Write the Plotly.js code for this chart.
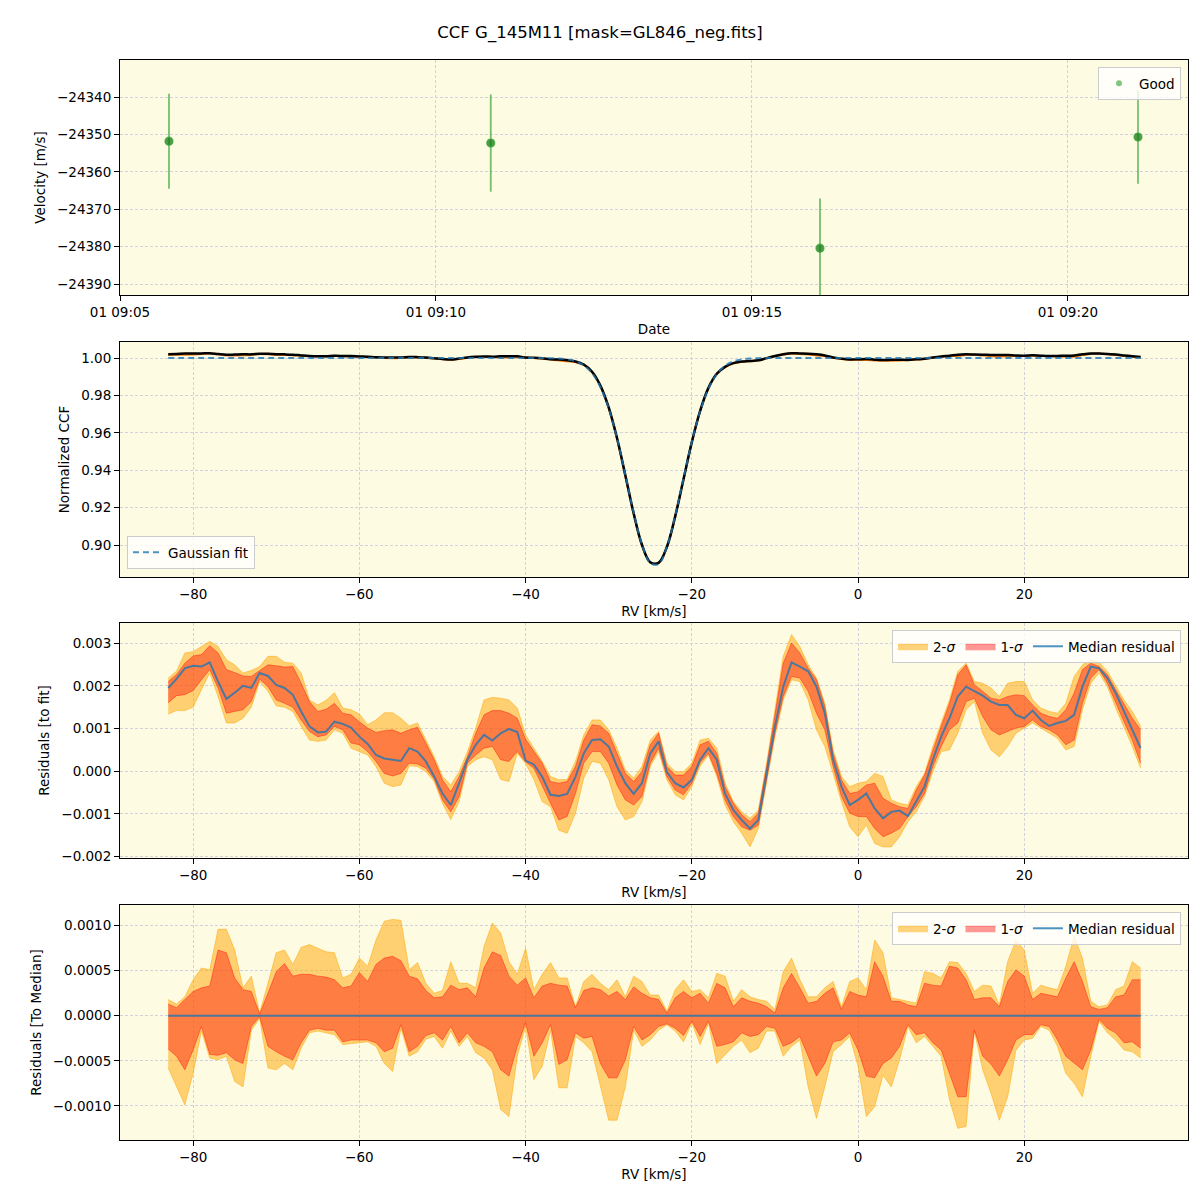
<!DOCTYPE html>
<html>
<head>
<meta charset="utf-8">
<script src="https://cdn.plot.ly/plotly-3.0.1.min.js"></script>
<style>html,body{margin:0;padding:0;background:#fff;}#chart{width:1200px;height:1200px;}</style>
</head>
<body>
<div id="chart"></div>
<script>
// ---- Panel 1: velocities ----
const obsTimes = ['2024-01-01 09:05:46.5', '2024-01-01 09:10:52', '2024-01-01 09:16:04.6', '2024-01-01 09:21:06.5'];
const obsVel = [-24351.8, -24352.3, -24380.4, -24350.7];
const obsErr = [12.7, 13.0, 13.3, 12.5];

// ---- RV grid (km/s) ----
const rv = [-83,-82,-81,-80,-79,-78,-77,-76,-75,-74,
 -73,-72,-71,-70,-69,-68,-67,-66,-65,-64,
 -63,-62,-61,-60,-59,-58,-57,-56,-55,-54,
 -53,-52,-51,-50,-49,-48,-47,-46,-45,-44,
 -43,-42,-41,-40,-39,-38,-37,-36,-35,-34,
 -33,-32,-31,-30,-29,-28,-27,-26,-25,-24,
 -23,-22,-21,-20,-19,-18,-17,-16,-15,-14,
 -13,-12,-11,-10,-9,-8,-7,-6,-5,-4,
 -3,-2,-1,0,1,2,3,4,5,6,
 7,8,9,10,11,12,13,14,15,16,
 17,18,19,20,21,22,23,24,25,26,
 27,28,29,30,31,32,33,34];

// ---- Panel 2: CCF ----
const ccfMean = [1.00195,1.00216,1.00241,1.00247,1.00245,1.00255,1.00210,1.00169,1.00184,1.00200,
 1.00195,1.00230,1.00223,1.00202,1.00195,1.00179,1.00140,1.00105,1.00091,1.00093,
 1.00116,1.00111,1.00102,1.00081,1.00064,1.00038,1.00030,1.00027,1.00024,1.00054,
 1.00046,1.00023,0.99988,0.99948,0.99921,0.99972,1.00027,1.00062,1.00085,1.00072,
 1.00089,1.00099,1.00092,1.00025,1.00016,0.99987,0.99935,0.99918,0.99880,0.99817,
 0.99652,0.99263,0.98525,0.97358,0.95721,0.93732,0.91697,0.90012,0.89082,0.89050,
 0.89898,0.91532,0.93522,0.95500,0.97177,0.98404,0.99157,0.99528,0.99729,0.99811,
 0.99836,0.99876,0.99995,1.00105,1.00198,1.00255,1.00245,1.00234,1.00198,1.00136,
 1.00027,0.99964,0.99921,0.99933,0.99948,0.99913,0.99890,0.99905,0.99908,0.99895,
 0.99929,0.99964,1.00027,1.00081,1.00124,1.00175,1.00198,1.00187,1.00177,1.00163,
 1.00155,1.00155,1.00132,1.00124,1.00142,1.00120,1.00106,1.00113,1.00118,1.00132,
 1.00198,1.00245,1.00241,1.00218,1.00183,1.00140,1.00097,1.00054];
const ccfSingle = [1.00160,1.00177,1.00179,1.00189,1.00214,1.00238,1.00195,1.00136,1.00140,1.00144,
 1.00163,1.00216,1.00198,1.00167,1.00159,1.00150,1.00120,1.00093,1.00081,1.00085,
 1.00105,1.00097,1.00066,1.00062,1.00046,1.00023,0.99995,0.99989,0.99995,1.00019,
 1.00017,1.00007,0.99982,0.99933,0.99905,0.99941,1.00019,1.00038,1.00054,1.00058,
 1.00027,1.00023,1.00046,1.00022,1.00007,0.99964,0.99915,0.99862,0.99827,0.99778,
 0.99629,0.99236,0.98496,0.97319,0.95678,0.93693,0.91671,0.89981,0.89059,0.89034,
 0.89888,0.91516,0.93505,0.95492,0.97170,0.98392,0.99125,0.99513,0.99714,0.99795,
 0.99832,0.99864,0.99980,1.00089,1.00175,1.00222,1.00218,1.00187,1.00136,1.00097,
 1.00011,0.99941,0.99902,0.99894,0.99894,0.99866,0.99847,0.99855,0.99866,0.99894,
 0.99917,0.99948,1.00011,1.00058,1.00097,1.00113,1.00163,1.00171,1.00128,1.00097,
 1.00085,1.00093,1.00101,1.00105,1.00120,1.00105,1.00097,1.00085,1.00062,1.00073,
 1.00159,1.00218,1.00238,1.00206,1.00159,1.00116,1.00073,1.00019];
const ccfFit = [1,1,1,1,1,1,1,1,1,1,
 1,1,1,1,1,1,1,1,1,1,
 1,1,1,1,1,1,1,1,1,1,
 1,1,1,1,1,1,1,1,1,1,
 1,1,1,1,1,1,0.9999,0.99976,0.99933,0.9983,
 0.9961,0.9919,0.9845,0.9730,0.9571,0.9376,0.9175,0.9004,0.8904,0.8898,
 0.8990,0.9156,0.9356,0.9552,0.9715,0.9835,0.9913,0.9958,0.9982,0.99925,
 0.9997,0.9999,1,1,1,1,1,1,1,1,
 1,1,1,1,1,1,1,1,1,1,
 1,1,1,1,1,1,1,1,1,1,
 1,1,1,1,1,1,1,1,1,1,
 1,1,1,1,1,1,1,1];

// ---- Panel 3: residuals to fit ----
const medFit = [0.00195,0.00216,0.00241,0.00247,0.00245,0.00255,0.00210,0.00169,0.00184,0.00200,
 0.00195,0.00230,0.00223,0.00202,0.00195,0.00179,0.00140,0.00105,0.00091,0.00093,
 0.00116,0.00111,0.00102,0.00081,0.00064,0.00038,0.00030,0.00027,0.00024,0.00054,
 0.00046,0.00023,-0.00012,-0.00052,-0.00079,-0.00028,0.00027,0.00062,0.00085,0.00072,
 0.00089,0.00099,0.00092,0.00025,0.00016,-0.00013,-0.00055,-0.00058,-0.00053,-0.00013,
 0.00042,0.00073,0.00075,0.00058,0.00011,-0.00028,-0.00053,-0.00028,0.00042,0.00070,
 -0.00002,-0.00028,-0.00038,-0.00020,0.00027,0.00054,0.00027,-0.00052,-0.00091,-0.00114,
 -0.00134,-0.00114,-0.00005,0.00105,0.00198,0.00255,0.00245,0.00234,0.00198,0.00136,
 0.00027,-0.00036,-0.00079,-0.00067,-0.00052,-0.00087,-0.00110,-0.00095,-0.00092,-0.00105,
 -0.00071,-0.00036,0.00027,0.00081,0.00124,0.00175,0.00198,0.00187,0.00177,0.00163,
 0.00155,0.00155,0.00132,0.00124,0.00142,0.00120,0.00106,0.00113,0.00118,0.00132,
 0.00198,0.00245,0.00241,0.00218,0.00183,0.00140,0.00097,0.00054];
const fitUp1 = [0.00210,0.00226,0.00253,0.00270,0.00273,0.00294,0.00277,0.00238,0.00231,0.00223,
 0.00222,0.00236,0.00249,0.00247,0.00244,0.00245,0.00206,0.00163,0.00140,0.00145,
 0.00159,0.00136,0.00132,0.00116,0.00101,0.00091,0.00095,0.00097,0.00089,0.00097,
 0.00103,0.00066,0.00027,-0.00020,-0.00048,-0.00012,0.00034,0.00089,0.00132,0.00142,
 0.00142,0.00136,0.00124,0.00075,0.00046,0.00019,-0.00024,-0.00028,-0.00024,0.00011,
 0.00073,0.00109,0.00106,0.00089,0.00042,-0.00005,-0.00024,-0.00001,0.00062,0.00089,
 0.00011,-0.00009,-0.00009,0.00011,0.00062,0.00070,0.00042,-0.00036,-0.00075,-0.00102,
 -0.00118,-0.00098,0.00011,0.00136,0.00253,0.00300,0.00277,0.00241,0.00214,0.00152,
 0.00042,-0.00020,-0.00052,-0.00048,-0.00032,-0.00028,-0.00063,-0.00075,-0.00083,-0.00087,
 -0.00044,-0.00009,0.00050,0.00105,0.00159,0.00226,0.00249,0.00202,0.00187,0.00171,
 0.00167,0.00175,0.00179,0.00177,0.00155,0.00136,0.00128,0.00124,0.00144,0.00183,
 0.00238,0.00253,0.00245,0.00226,0.00191,0.00159,0.00124,0.00097];
const fitLo1 = [0.00160,0.00177,0.00179,0.00189,0.00214,0.00238,0.00195,0.00136,0.00140,0.00144,
 0.00163,0.00216,0.00198,0.00167,0.00159,0.00150,0.00120,0.00093,0.00081,0.00085,
 0.00105,0.00097,0.00066,0.00062,0.00046,0.00023,-0.00005,-0.00011,-0.00005,0.00019,
 0.00017,0.00007,-0.00018,-0.00067,-0.00095,-0.00059,0.00019,0.00038,0.00054,0.00058,
 0.00027,0.00023,0.00046,0.00022,0.00007,-0.00036,-0.00075,-0.00114,-0.00106,-0.00052,
 0.00019,0.00046,0.00046,0.00019,-0.00032,-0.00067,-0.00079,-0.00059,0.00019,0.00054,
 -0.00012,-0.00044,-0.00055,-0.00028,0.00020,0.00042,-0.00005,-0.00067,-0.00106,-0.00130,
 -0.00138,-0.00126,-0.00020,0.00089,0.00175,0.00222,0.00218,0.00187,0.00136,0.00097,
 0.00011,-0.00059,-0.00098,-0.00106,-0.00106,-0.00134,-0.00153,-0.00145,-0.00134,-0.00106,
 -0.00083,-0.00052,0.00011,0.00058,0.00097,0.00113,0.00163,0.00171,0.00128,0.00097,
 0.00085,0.00093,0.00101,0.00105,0.00120,0.00105,0.00097,0.00085,0.00062,0.00073,
 0.00159,0.00218,0.00238,0.00206,0.00159,0.00116,0.00073,0.00019];
const fitUp2 = [0.00218,0.00234,0.00277,0.00280,0.00292,0.00304,0.00292,0.00261,0.00249,0.00230,
 0.00236,0.00245,0.00269,0.00269,0.00255,0.00253,0.00230,0.00167,0.00155,0.00166,
 0.00184,0.00148,0.00144,0.00134,0.00109,0.00120,0.00137,0.00137,0.00124,0.00106,
 0.00113,0.00073,0.00034,-0.00012,-0.00032,-0.00001,0.00046,0.00101,0.00167,0.00173,
 0.00171,0.00167,0.00148,0.00085,0.00054,0.00023,-0.00012,-0.00020,-0.00019,0.00023,
 0.00085,0.00120,0.00120,0.00097,0.00054,0.00003,-0.00016,0.00011,0.00073,0.00093,
 0.00019,-0.00001,-0.00001,0.00019,0.00073,0.00077,0.00054,-0.00028,-0.00071,-0.00095,
 -0.00110,-0.00091,0.00019,0.00144,0.00269,0.00320,0.00292,0.00249,0.00218,0.00159,
 0.00050,-0.00012,-0.00036,-0.00028,-0.00024,-0.00005,-0.00012,-0.00067,-0.00075,-0.00079,
 -0.00036,-0.00005,0.00058,0.00113,0.00167,0.00234,0.00253,0.00210,0.00206,0.00195,
 0.00175,0.00206,0.00210,0.00210,0.00167,0.00148,0.00140,0.00136,0.00159,0.00222,
 0.00249,0.00261,0.00255,0.00234,0.00202,0.00167,0.00140,0.00105];
const fitLo2 = [0.00134,0.00142,0.00142,0.00150,0.00191,0.00230,0.00175,0.00113,0.00113,0.00124,
 0.00150,0.00210,0.00187,0.00153,0.00150,0.00140,0.00105,0.00073,0.00070,0.00073,
 0.00097,0.00089,0.00054,0.00046,0.00038,0.00011,-0.00028,-0.00036,-0.00032,0.00013,
 0.00011,-0.00001,-0.00024,-0.00075,-0.00113,-0.00071,0.00011,0.00027,0.00034,0.00027,
 -0.00019,-0.00024,0.00042,0.00018,-0.00020,-0.00071,-0.00083,-0.00138,-0.00145,-0.00098,
 -0.00016,0.00023,0.00019,-0.00020,-0.00083,-0.00114,-0.00106,-0.00071,0.00011,0.00046,
 -0.00020,-0.00055,-0.00067,-0.00036,0.00012,0.00038,-0.00012,-0.00079,-0.00118,-0.00145,
 -0.00177,-0.00134,-0.00028,0.00081,0.00167,0.00214,0.00210,0.00167,0.00097,0.00058,
 -0.00005,-0.00071,-0.00130,-0.00153,-0.00126,-0.00169,-0.00177,-0.00177,-0.00153,-0.00118,
 -0.00095,-0.00059,-0.00001,0.00046,0.00050,0.00089,0.00144,0.00163,0.00089,0.00050,
 0.00034,0.00058,0.00089,0.00101,0.00113,0.00101,0.00089,0.00077,0.00050,0.00058,
 0.00144,0.00206,0.00230,0.00198,0.00148,0.00105,0.00058,0.00007];

// ---- Panel 4: residuals to median ----
const medRvEnds = [-83, 34];
const medZero = [0, 0];
const medUp2 = [0.00018,0.00013,0.00021,0.00040,0.00053,0.00051,0.00096,0.00096,0.00073,0.00031,
 0.00044,0.00003,0.00036,0.00070,0.00073,0.00057,0.00076,0.00079,0.00075,0.00071,
 0.00070,0.00042,0.00046,0.00064,0.00055,0.00084,0.00105,0.00107,0.00106,0.00051,
 0.00059,0.00036,0.00025,0.00028,0.00060,0.00036,0.00036,0.00031,0.00077,0.00103,
 0.00092,0.00060,0.00046,0.00075,0.00029,0.00046,0.00059,0.00042,0.00042,0.00010,
 0.00038,0.00046,0.00036,0.00029,0.00040,0.00021,0.00044,0.00038,0.00023,0.00023,
 0.00005,0.00029,0.00040,0.00027,0.00029,0.00020,0.00047,0.00044,0.00016,0.00029,
 0.00021,0.00018,0.00016,0.00007,0.00049,0.00064,0.00040,0.00021,0.00021,0.00031,
 0.00038,0.00010,0.00038,0.00042,0.00029,0.00084,0.00070,0.00020,0.00018,0.00016,
 0.00014,0.00049,0.00047,0.00042,0.00060,0.00059,0.00047,0.00027,0.00034,0.00033,
 0.00012,0.00060,0.00084,0.00073,0.00025,0.00034,0.00031,0.00029,0.00055,0.00088,
 0.00064,0.00016,0.00010,0.00012,0.00029,0.00033,0.00060,0.00053];
const medUp1 = [0.00013,0.00009,0.00018,0.00027,0.00031,0.00033,0.00073,0.00070,0.00042,0.00029,
 0.00027,0.00002,0.00025,0.00049,0.00058,0.00044,0.00046,0.00046,0.00044,0.00043,
 0.00040,0.00031,0.00033,0.00048,0.00038,0.00057,0.00064,0.00066,0.00061,0.00044,
 0.00041,0.00028,0.00020,0.00021,0.00034,0.00029,0.00031,0.00021,0.00053,0.00071,
 0.00067,0.00044,0.00034,0.00042,0.00020,0.00033,0.00036,0.00034,0.00033,0.00009,
 0.00028,0.00031,0.00029,0.00022,0.00027,0.00018,0.00032,0.00025,0.00020,0.00018,
 0.00003,0.00020,0.00027,0.00020,0.00025,0.00014,0.00036,0.00031,0.00010,0.00020,
 0.00016,0.00014,0.00010,0.00003,0.00031,0.00047,0.00031,0.00014,0.00016,0.00025,
 0.00031,0.00007,0.00027,0.00023,0.00021,0.00060,0.00044,0.00016,0.00016,0.00012,
 0.00010,0.00036,0.00034,0.00033,0.00055,0.00053,0.00040,0.00018,0.00020,0.00020,
 0.00010,0.00038,0.00051,0.00044,0.00018,0.00025,0.00023,0.00021,0.00042,0.00060,
 0.00038,0.00010,0.00007,0.00009,0.00021,0.00023,0.00040,0.00040];
const medLo1 = [-0.00037,-0.00045,-0.00060,-0.00038,-0.00012,-0.00043,-0.00044,-0.00041,-0.00049,-0.00053,
 -0.00012,-0.00001,-0.00034,-0.00040,-0.00045,-0.00049,-0.00030,-0.00016,-0.00014,-0.00016,
 -0.00016,-0.00029,-0.00027,-0.00027,-0.00027,-0.00030,-0.00040,-0.00036,-0.00010,-0.00040,
 -0.00034,-0.00022,-0.00019,-0.00027,-0.00012,-0.00030,-0.00019,-0.00030,-0.00034,-0.00040,
 -0.00060,-0.00067,-0.00034,-0.00008,-0.00045,-0.00030,-0.00010,-0.00054,-0.00049,-0.00019,
 -0.00025,-0.00023,-0.00053,-0.00069,-0.00069,-0.00049,-0.00012,-0.00027,-0.00021,-0.00012,
 -0.00009,-0.00014,-0.00022,-0.00006,-0.00023,-0.00006,-0.00034,-0.00032,-0.00029,-0.00019,
 -0.00023,-0.00021,-0.00012,-0.00014,-0.00034,-0.00030,-0.00023,-0.00045,-0.00067,-0.00053,
 -0.00029,-0.00027,-0.00019,-0.00038,-0.00067,-0.00069,-0.00053,-0.00047,-0.00034,-0.00010,
 -0.00021,-0.00019,-0.00030,-0.00038,-0.00064,-0.00090,-0.00090,-0.00016,-0.00045,-0.00054,
 -0.00067,-0.00049,-0.00027,-0.00021,-0.00021,-0.00010,-0.00012,-0.00027,-0.00045,-0.00053,
 -0.00060,-0.00038,-0.00004,-0.00014,-0.00019,-0.00030,-0.00029,-0.00036];
const medLo2 = [-0.00058,-0.00079,-0.00099,-0.00064,-0.00017,-0.00047,-0.00049,-0.00045,-0.00073,-0.00079,
 -0.00016,-0.00003,-0.00058,-0.00060,-0.00053,-0.00060,-0.00036,-0.00019,-0.00017,-0.00019,
 -0.00021,-0.00032,-0.00031,-0.00030,-0.00029,-0.00034,-0.00053,-0.00062,-0.00014,-0.00045,
 -0.00040,-0.00026,-0.00023,-0.00036,-0.00017,-0.00034,-0.00023,-0.00041,-0.00047,-0.00060,
 -0.00104,-0.00112,-0.00045,-0.00012,-0.00071,-0.00056,-0.00016,-0.00080,-0.00080,-0.00023,
 -0.00030,-0.00040,-0.00079,-0.00116,-0.00116,-0.00079,-0.00016,-0.00034,-0.00027,-0.00016,
 -0.00010,-0.00017,-0.00029,-0.00008,-0.00032,-0.00008,-0.00053,-0.00043,-0.00034,-0.00027,
 -0.00041,-0.00036,-0.00017,-0.00017,-0.00045,-0.00034,-0.00027,-0.00079,-0.00114,-0.00079,
 -0.00040,-0.00032,-0.00023,-0.00056,-0.00112,-0.00101,-0.00066,-0.00079,-0.00049,-0.00012,
 -0.00030,-0.00023,-0.00034,-0.00045,-0.00093,-0.00125,-0.00123,-0.00017,-0.00060,-0.00086,
 -0.00116,-0.00090,-0.00038,-0.00027,-0.00025,-0.00012,-0.00016,-0.00034,-0.00064,-0.00075,
 -0.00090,-0.00045,-0.00006,-0.00019,-0.00027,-0.00038,-0.00040,-0.00047];

// ---- styles ----
const FONT = 'DejaVu Sans, Liberation Sans, sans-serif';
const C2 = 'rgba(255,165,0,0.5)';
const C1 = 'rgba(255,0,0,0.4)';
const CMED = 'rgba(31,119,180,0.8)';

function bandTraces(xa, ya, lo2, up2, lo1, up1, leg) {
  return [
    {x: rv, y: lo2, xaxis: xa, yaxis: ya, type: 'scatter', mode: 'lines', line: {color: C2, width: 1}, showlegend: false, hoverinfo: 'skip'},
    {x: rv, y: up2, xaxis: xa, yaxis: ya, type: 'scatter', mode: 'lines', line: {color: C2, width: 1}, fill: 'tonexty', fillcolor: C2, name: '2-<i>σ</i>', legend: leg},
    {x: rv, y: lo1, xaxis: xa, yaxis: ya, type: 'scatter', mode: 'lines', line: {color: C1, width: 1}, showlegend: false, hoverinfo: 'skip'},
    {x: rv, y: up1, xaxis: xa, yaxis: ya, type: 'scatter', mode: 'lines', line: {color: C1, width: 1}, fill: 'tonexty', fillcolor: C1, name: '1-<i>σ</i>', legend: leg}
  ];
}

const traces = [
  // panel 1
  {x: obsTimes, y: obsVel, xaxis: 'x', yaxis: 'y', type: 'scatter', mode: 'markers',
   error_y: {type: 'data', array: obsErr, visible: true, color: 'rgba(44,160,44,0.65)', thickness: 1.8, width: 0},
   marker: {color: 'rgba(20,120,20,0.75)', size: 8, line: {color: 'rgba(60,170,60,0.8)', width: 1.2}},
   showlegend: false},
  {x: [null], y: [null], xaxis: 'x', yaxis: 'y', type: 'scatter', mode: 'markers',
   marker: {color: 'rgba(44,160,44,0.6)', size: 6}, name: 'Good', legend: 'legend'},
  // panel 2
  {x: rv, y: ccfSingle, xaxis: 'x2', yaxis: 'y2', type: 'scatter', mode: 'lines', line: {color: '#ff7f0e', width: 2, shape: 'spline'}, showlegend: false},
  {x: rv, y: ccfMean, xaxis: 'x2', yaxis: 'y2', type: 'scatter', mode: 'lines', line: {color: 'black', width: 2.5, shape: 'spline'}, showlegend: false},
  {x: rv, y: ccfFit, xaxis: 'x2', yaxis: 'y2', type: 'scatter', mode: 'lines', line: {color: CMED, width: 2, dash: '6px,4px', shape: 'spline'}, name: 'Gaussian fit', legend: 'legend2'},
  // panel 3
  ...bandTraces('x3', 'y3', fitLo2, fitUp2, fitLo1, fitUp1, 'legend3'),
  {x: rv, y: medFit, xaxis: 'x3', yaxis: 'y3', type: 'scatter', mode: 'lines', line: {color: CMED, width: 2}, name: 'Median residual', legend: 'legend3'},
  // panel 4
  ...bandTraces('x4', 'y4', medLo2, medUp2, medLo1, medUp1, 'legend4'),
  {x: medRvEnds, y: medZero, xaxis: 'x4', yaxis: 'y4', type: 'scatter', mode: 'lines', line: {color: CMED, width: 2}, name: 'Median residual', legend: 'legend4'}
];

const axBase = {
  showline: true, mirror: true, linecolor: 'black', linewidth: 1,
  ticks: 'outside', ticklen: 5, tickwidth: 1, tickcolor: 'black',
  showgrid: true, gridcolor: '#d2d2da', griddash: '3px,2px', gridwidth: 1,
  zeroline: false, automargin: false,
  tickfont: {family: FONT, size: 13.5, color: 'black'}
};
function ax(extra) { return Object.assign({}, axBase, extra); }
const titleFont = {family: FONT, size: 13.5, color: 'black'};
const XD = [0.1, 0.99];
const rvRange = [-88.8, 39.7];
const legBase = {bgcolor: 'rgba(255,255,255,0.8)', bordercolor: '#cccccc', borderwidth: 1, traceorder: 'normal', font: {family: FONT, size: 13.5, color: 'black'}};

const layout = {
  width: 1200, height: 1200,
  margin: {l: 0, r: 0, t: 0, b: 0},
  paper_bgcolor: 'white', plot_bgcolor: '#fdfbe2',
  font: {family: FONT, color: 'black'},
  title: {text: 'CCF G_145M11 [mask=GL846_neg.fits]', x: 0.5, xanchor: 'center', y: 1 - 32/1200, yanchor: 'middle', font: {family: FONT, size: 16.5, color: 'black'}},
  xaxis: ax({domain: XD, anchor: 'y', type: 'date', range: ['2024-01-01 09:05:00', '2024-01-01 09:21:54'],
    tickformat: '%d %H:%M', tick0: '2024-01-01 09:05:00', dtick: 300000,
    title: {text: 'Date', font: titleFont, standoff: 5}}),
  yaxis: ax({domain: [1 - 295/1200, 1 - 60/1200], anchor: 'x', range: [-24392.9, -24330.1], tick0: -24340, dtick: 10, tickformat: 'd',
    title: {text: 'Velocity [m/s]', font: titleFont, standoff: 8}}),
  xaxis2: ax({domain: XD, anchor: 'y2', range: rvRange, tick0: 0, dtick: 20, title: {text: 'RV [km/s]', font: titleFont, standoff: 5}}),
  yaxis2: ax({domain: [1 - 577/1200, 1 - 342/1200], anchor: 'x2', range: [0.8829, 1.00856], tick0: 0.9, dtick: 0.02, tickformat: '.2f',
    title: {text: 'Normalized CCF', font: titleFont, standoff: 8}}),
  xaxis3: ax({domain: XD, anchor: 'y3', range: rvRange, tick0: 0, dtick: 20, title: {text: 'RV [km/s]', font: titleFont, standoff: 5}}),
  yaxis3: ax({domain: [1 - 858/1200, 1 - 623/1200], anchor: 'x3', range: [-0.00203, 0.00347], tick0: 0, dtick: 0.001, tickformat: '.3f',
    title: {text: 'Residuals [to fit]', font: titleFont, standoff: 8}}),
  xaxis4: ax({domain: XD, anchor: 'y4', range: rvRange, tick0: 0, dtick: 20, title: {text: 'RV [km/s]', font: titleFont, standoff: 5}}),
  yaxis4: ax({domain: [1 - 1140/1200, 1 - 905/1200], anchor: 'x4', range: [-0.00138, 0.00123], tick0: 0, dtick: 0.0005, tickformat: '.4f',
    title: {text: 'Residuals [To Median]', font: titleFont, standoff: 8}}),
  legend: Object.assign({}, legBase, {x: 1181/1200, xanchor: 'right', y: 1 - 67/1200, yanchor: 'top'}),
  legend2: Object.assign({}, legBase, {x: 127/1200, xanchor: 'left', y: 1 - 569/1200, yanchor: 'bottom'}),
  legend3: Object.assign({}, legBase, {x: 1181/1200, xanchor: 'right', y: 1 - 630/1200, yanchor: 'top', orientation: 'h'}),
  legend4: Object.assign({}, legBase, {x: 1181/1200, xanchor: 'right', y: 1 - 912/1200, yanchor: 'top', orientation: 'h'}),
  showlegend: true
};

Plotly.newPlot('chart', traces, layout, {staticPlot: true, displayModeBar: false});
</script>
</body>
</html>
